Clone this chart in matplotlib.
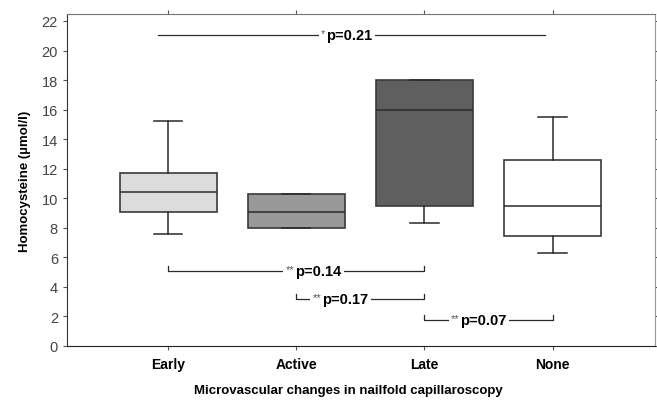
import numpy as np
import matplotlib
matplotlib.use("Agg")
import matplotlib.pyplot as plt

plt.rcParams['font.family'] = ['Liberation Sans', 'DejaVu Sans']

# box summary values (umol/l)
groups = ['Early', 'Active', 'Late', 'None']
q1 = [9.1, 7.95, 9.5, 7.45]
med = [10.4, 9.1, 16.0, 9.5]
q3 = [11.7, 10.3, 18.0, 12.6]
whis_lo = [7.6, 7.95, 8.35, 6.3]
whis_hi = [15.2, 10.3, 18.0, 15.5]
box_colors = ['#dcdcdc', '#999999', '#5f5f5f', '#ffffff']

# pairwise comparisons: (from group, to group, y level, stars, p text, text x)
pairs = [
    (0, 2, 5.1, '**', 'p=0.14', 2.17),
    (1, 2, 3.2, '**', 'p=0.17', 2.38),
    (2, 3, 1.77, '**', 'p=0.07', 3.46),
]
# overall comparison line (x span, y level)
overall_span = [0.92, 3.94]
overall_y = 21.05
overall_stars, overall_text, overall_tx = '*', 'p=0.21', 2.41

fig = plt.figure(figsize=(6.57, 4.02), dpi=100)
ax = fig.add_axes([0.102, 0.137, 0.895, 0.826])

pos = np.arange(1, len(groups) + 1)
stats = []
for i in range(len(groups)):
    stats.append(dict(med=med[i], q1=q1[i], q3=q3[i], whislo=whis_lo[i],
                      whishi=whis_hi[i], fliers=[]))

bp = ax.bxp(stats, positions=pos, widths=0.76, patch_artist=True,
            capwidths=0.22, showfliers=False)
for patch, c in zip(bp['boxes'], box_colors):
    patch.set_facecolor(c)
    patch.set_edgecolor('#3a3a3a')
    patch.set_linewidth(1.2)
for k in ['whiskers', 'caps', 'medians']:
    for ln in bp[k]:
        ln.set_color('#2a2a2a')
        ln.set_linewidth(1.1)

tick_h = 0.33

def stat_label(x, y, stars, txt):
    t = ax.text(x, y, txt, ha='center', va='center', fontsize=10.5,
                fontweight='bold', zorder=5,
                bbox=dict(fc='white', ec='none', pad=2))
    ax.annotate(stars, xy=(0, 1.0), xycoords=t, xytext=(-0.5, 0),
                textcoords='offset points', ha='right', va='top',
                fontsize=8, color='#555555', zorder=6,
                bbox=dict(fc='white', ec='none', pad=1.5))

for a, b, y, stars, txt, tx in pairs:
    xa, xb = pos[a], pos[b]
    ax.plot([xa, xa, xb, xb], [y + tick_h, y, y, y + tick_h],
            color='#2a2a2a', lw=0.9, zorder=3)
    stat_label(tx, y, stars, txt)

ax.plot(overall_span, [overall_y, overall_y], color='#2a2a2a', lw=0.9, zorder=3)
stat_label(overall_tx, overall_y, overall_stars, overall_text)

ax.set_xlim(0.21, 4.8)
ax.set_ylim(0, 22.48)
ax.set_yticks(np.arange(0, 23, 2))
ax.set_xticks(pos)
ax.set_xticklabels(groups, fontsize=10, fontweight='bold')
ax.tick_params(axis='y', labelsize=10.5, labelcolor='#444444', length=3,
               right=True, direction='out', color='#555555')
ax.tick_params(axis='x', length=3, top=True, direction='out', pad=5,
               color='#555555')

ax.spines['left'].set_color('#333333')
ax.spines['bottom'].set_color('#222222')
ax.spines['top'].set_color('#777777')
ax.spines['right'].set_color('#999999')

ax.set_ylabel('Homocysteine (µmol/l)', fontsize=9.5, fontweight='bold', labelpad=8)
fig.text(0.53, 0.028, 'Microvascular changes in nailfold capillaroscopy',
         ha='center', va='center', fontsize=9.5, fontweight='bold')

fig.savefig('out.png', dpi=100)
